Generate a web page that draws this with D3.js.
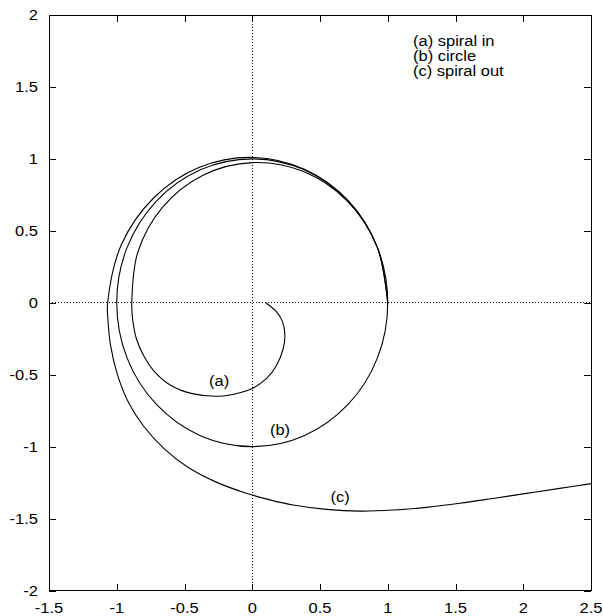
<!DOCTYPE html>
<html>
<head>
<meta charset="utf-8">
<script src="https://cdn.jsdelivr.net/npm/d3@7"></script>
<style>
  html, body { margin: 0; padding: 0; background: #fff; }
  svg { display: block; }
  text { font-family: "Liberation Sans", Arial, Helvetica, sans-serif; font-size: 15px; fill: #000; }
</style>
</head>
<body>
<svg id="chart" width="603" height="616"></svg>
<script>
// ---- data ----
const xTicks = [-1.5, -1, -0.5, 0, 0.5, 1, 1.5, 2, 2.5];
const yTicks = [-2, -1.5, -1, -0.5, 0, 0.5, 1, 1.5, 2];
const xTickLabels = ["-1.5", "-1", "-0.5", "0", "0.5", "1", "1.5", "2", "2.5"];
const yTickLabels = ["-2", "-1.5", "-1", "-0.5", "0", "0.5", "1", "1.5", "2"];

// (a) spiral in
const spiralInX = [1, 0.924, 0.704, 0.378, 0, -0.367, -0.663, -0.845, -0.889, -0.882, -0.855, -0.8, -0.72, -0.6, -0.45, -0.245, -0.091, 0, 0.106, 0.18, 0.229, 0.241, 0.224, 0.18, 0.099];
const spiralInY = [0, 0.383, 0.704, 0.912, 0.974, 0.885, 0.663, 0.350, 0, -0.12, -0.25, -0.37, -0.48, -0.575, -0.63, -0.65, -0.626, -0.596, -0.526, -0.434, -0.318, -0.226, -0.133, -0.064, 0];

// (b) circle
const circleX = [1, 0.924, 0.707, 0.383, 0, -0.383, -0.707, -0.924, -1, -0.924, -0.707, -0.383, 0, 0.383, 0.707, 0.924];
const circleY = [0, 0.383, 0.707, 0.924, 1, 0.924, 0.707, 0.383, 0, -0.383, -0.707, -0.924, -1, -0.924, -0.707, -0.383];

// (c) spiral out
const spiralOutX = [1, 0.924, 0.709, 0.385, 0, -0.390, -0.728, -0.967, -1.067, -1.065, -1.045, -0.995, -0.915, -0.8, -0.655, -0.48, -0.27, -0.05, 0.13, 0.302, 0.549, 0.794, 1.04, 1.286, 1.532, 1.777, 2.024, 2.269, 2.5];
const spiralOutY = [0, 0.383, 0.709, 0.928, 1.01, 0.941, 0.728, 0.401, 0, -0.12, -0.3, -0.5, -0.69, -0.86, -1.01, -1.14, -1.245, -1.322, -1.370, -1.406, -1.436, -1.448, -1.441, -1.422, -1.394, -1.36, -1.325, -1.29, -1.257];

const curveLabels = ["(a)", "(b)", "(c)"];
const curveLabelX = [-0.245, 0.205, 0.648];
const curveLabelY = [-0.544, -0.884, -1.35];

const legendLines = ["(a) spiral in", "(b) circle", "(c) spiral out"];

// ---- layout ----
const L = 49, R = 591, T = 15, B = 590.5;
const svg = d3.select("#chart");
const x = d3.scaleLinear().domain([-1.5, 2.5]).range([L, R]);
const y = d3.scaleLinear().domain([-2, 2]).range([B, T]);
const SX = 1.1; // horizontal stretch of the reference's text

svg.append("defs").append("clipPath").attr("id", "clip")
  .append("rect").attr("x", L).attr("y", T).attr("width", R - L).attr("height", B - T);

// zero axes (dotted)
svg.append("line").attr("x1", x(0) + 0.5).attr("x2", x(0) + 0.5).attr("y1", T).attr("y2", B)
  .attr("stroke", "#000").attr("stroke-width", 1).attr("stroke-dasharray", "1,2").attr("shape-rendering", "crispEdges");
svg.append("line").attr("x1", L).attr("x2", R).attr("y1", y(0)).attr("y2", y(0))
  .attr("stroke", "#000").attr("stroke-width", 1).attr("stroke-dasharray", "1,2").attr("shape-rendering", "crispEdges");

// axes using d3 axis generators (inward ticks, mirrored)
const tickLen = 7;
function styleAxis(g) {
  g.select(".domain").remove();
  g.selectAll(".tick line").attr("stroke", "#000").attr("shape-rendering", "crispEdges");
  g.selectAll(".tick text").remove();
}
svg.append("g").attr("transform", `translate(0,${B})`)
  .call(d3.axisBottom(x).tickValues(xTicks).tickSize(-tickLen)).call(styleAxis);
svg.append("g").attr("transform", `translate(0,${T})`)
  .call(d3.axisTop(x).tickValues(xTicks).tickSize(-tickLen)).call(styleAxis);
svg.append("g").attr("transform", `translate(${L},0)`)
  .call(d3.axisLeft(y).tickValues(yTicks).tickSize(-tickLen)).call(styleAxis);
svg.append("g").attr("transform", `translate(${R},0)`)
  .call(d3.axisRight(y).tickValues(yTicks).tickSize(-tickLen)).call(styleAxis);

// tick labels
svg.append("g").selectAll("text").data(xTicks).join("text")
  .attr("transform", d => `translate(${x(d)},613) scale(${SX},1)`)
  .attr("text-anchor", "middle")
  .text((d, i) => xTickLabels[i]);
svg.append("g").selectAll("text").data(yTicks).join("text")
  .attr("transform", d => `translate(38,${y(d) + 5.3}) scale(${SX},1)`)
  .attr("text-anchor", "end")
  .text((d, i) => yTickLabels[i]);

// curves
const lineGen = d3.line().x(d => x(d[0])).y(d => y(d[1])).curve(d3.curveCatmullRom.alpha(0.5));
const closedGen = d3.line().x(d => x(d[0])).y(d => y(d[1])).curve(d3.curveCatmullRomClosed.alpha(0.5));
const plot = svg.append("g").attr("clip-path", "url(#clip)");
const zip = (a, b) => a.map((v, i) => [v, b[i]]);
plot.append("path").attr("d", lineGen(zip(spiralInX, spiralInY)))
  .attr("fill", "none").attr("stroke", "#000").attr("stroke-width", 1.1);
plot.append("path").attr("d", closedGen(zip(circleX, circleY)))
  .attr("fill", "none").attr("stroke", "#000").attr("stroke-width", 1.1);
plot.append("path").attr("d", lineGen(zip(spiralOutX, spiralOutY)))
  .attr("fill", "none").attr("stroke", "#000").attr("stroke-width", 1.1);

// frame
svg.append("rect").attr("x", L).attr("y", T).attr("width", R - L).attr("height", B - T)
  .attr("fill", "none").attr("stroke", "#000").attr("stroke-width", 1).attr("shape-rendering", "crispEdges");

// curve labels
svg.append("g").selectAll("text").data(curveLabels).join("text")
  .attr("transform", (d, i) => `translate(${x(curveLabelX[i])},${y(curveLabelY[i]) + 5}) scale(${SX},1)`)
  .attr("text-anchor", "middle")
  .text(d => d);

// legend
svg.append("g").selectAll("text").data(legendLines).join("text")
  .attr("transform", (d, i) => `translate(413,${46 + i * 15}) scale(${SX},1)`)
  .text(d => d);
</script>
</body>
</html>
